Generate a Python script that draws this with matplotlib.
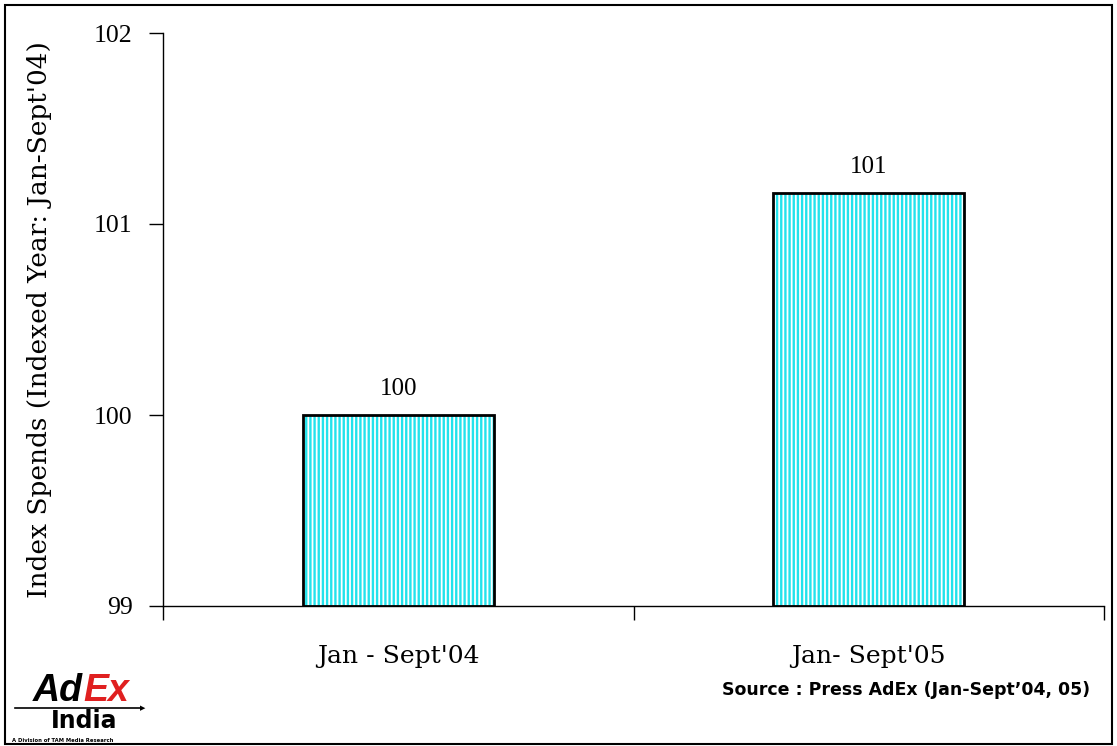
import matplotlib
matplotlib.use('Agg')
import matplotlib.pyplot as plt
from matplotlib.patches import Rectangle

periods = ["Jan - Sept'04", "Jan- Sept'05"]
index_spends = [100.0, 101.16]
y_ticks = [99, 100, 101, 102]

plt.rcParams['hatch.linewidth'] = 1.7

fig = plt.figure(figsize=(11.17, 7.46), dpi=100)
ax = fig.add_axes([163 / 1117, 1 - 606 / 746, (1104 - 163) / 1117, (606 - 33) / 746])

x = list(range(len(periods)))
heights = [v - 99 for v in index_spends]
# striped fill first, then a plain black outline on top
ax.bar(x, heights, bottom=99, width=0.405,
       color='white', edgecolor='#22e2ec', hatch='||||', linewidth=0, zorder=2)
ax.bar(x, heights, bottom=99, width=0.405,
       fill=False, edgecolor='black', linewidth=2, zorder=3)

for xi, v in zip(x, index_spends):
    ax.text(xi, v + 0.08, f'{v:.0f}', ha='center', va='bottom',
            fontsize=18, family='Liberation Serif')

ax.set_xlim(-0.5, 1.5)
ax.set_ylim(99, 102)
ax.set_yticks(y_ticks)
ax.set_yticklabels([str(t) for t in y_ticks], fontsize=18.5, family='Liberation Serif')
ax.set_xticks([-0.5, 0.5, 1.5])
ax.set_xticklabels([])
ax.tick_params(axis='both', direction='out', length=10, width=1, color='black')
ax.tick_params(axis='y', pad=12)

for xi, name in zip(x, periods):
    ax.text(xi, -0.068, name, transform=ax.get_xaxis_transform(), ha='center', va='top',
            fontsize=18, family='DejaVu Serif')

ax.spines['top'].set_visible(False)
ax.spines['right'].set_visible(False)
ax.spines['left'].set_linewidth(1)
ax.spines['bottom'].set_linewidth(1)

ax.set_ylabel("Index Spends (Indexed Year: Jan-Sept'04)", fontsize=19,
              family='DejaVu Serif')
ax.yaxis.set_label_coords(-(163 - 52) / 941, 0.5)

fig.text(1090 / 1117, 1 - 690 / 746, "Source : Press AdEx (Jan-Sept\u201904, 05)",
         ha='right', va='center', fontsize=12.5, fontweight='bold', family='DejaVu Sans')

# logo
fig.text(33 / 1117, 1 - 701 / 746, 'Ad', fontsize=27, fontweight='bold', style='italic',
         family='Liberation Sans', color='black', va='baseline', ha='left')
fig.text(83 / 1117, 1 - 701 / 746, 'Ex', fontsize=27, fontweight='bold', style='italic',
         family='Liberation Sans', color='#e02020', va='baseline', ha='left')
fig.text(84 / 1117, 1 - 728 / 746, 'India', fontsize=17, fontweight='bold',
         family='DejaVu Sans', color='black', va='baseline', ha='center')
fig.text(12 / 1117, 1 - 740 / 746, 'A Division of TAM Media Research', fontsize=3.8,
         fontweight='bold', family='DejaVu Sans', color='black', va='center', ha='left')
fig.add_artist(plt.Line2D([15 / 1117, 140 / 1117], [1 - 708 / 746, 1 - 708 / 746],
                          color='black', lw=1.2, transform=fig.transFigure))
fig.text(143 / 1117, 1 - 708 / 746, '\u25b6', fontsize=5, color='black',
         va='center', ha='center', family='DejaVu Sans')

fig.add_artist(Rectangle((5 / 1117, 2 / 746), 1107 / 1117, 739 / 746, fill=False,
                         edgecolor='black', linewidth=1.5, transform=fig.transFigure))

fig.savefig('out.png', dpi=100)
